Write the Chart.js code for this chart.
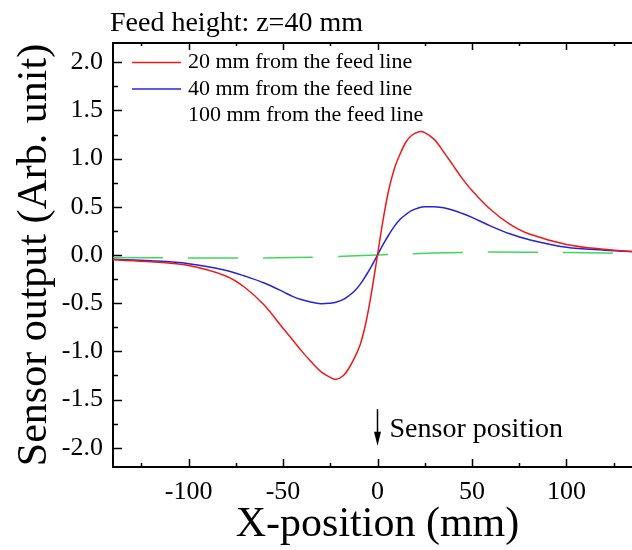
<!DOCTYPE html>
<html>
<head>
<meta charset="utf-8">
<script src="https://cdn.jsdelivr.net/npm/chart.js@4.4.1/dist/chart.umd.min.js"></script>
<style>
  body { margin: 0; background: #fff; overflow: hidden; }
  .wrap { width: 650px; height: 550px; position: relative; }
</style>
</head>
<body>
<div class="wrap"><canvas id="myChart"></canvas></div>
<script>
'use strict';

// values
let xPos = [-140, -120, -100, -80, -70, -60, -50, -45, -40, -35, -30, -25, -22, -18, -15, -12, -9, -6, -3, 0,
            3, 6, 9, 12, 15, 18, 22, 25, 30, 35, 40, 45, 50, 60, 70, 80, 100, 120, 140];
let red20 = [-0.05, -0.07, -0.11, -0.22, -0.34, -0.52, -0.76, -0.88, -1.0, -1.11, -1.21, -1.27, -1.29, -1.25, -1.17, -1.06, -0.92, -0.69, -0.37, 0,
             0.37, 0.68, 0.9, 1.05, 1.17, 1.24, 1.28, 1.27, 1.2, 1.07, 0.93, 0.79, 0.67, 0.47, 0.32, 0.22, 0.11, 0.06, 0.03];
let blue40 = [-0.045, -0.06, -0.09, -0.16, -0.22, -0.29, -0.38, -0.43, -0.465, -0.49, -0.505, -0.5, -0.49, -0.46, -0.42, -0.37, -0.3, -0.21, -0.11, 0,
              0.11, 0.21, 0.3, 0.37, 0.42, 0.46, 0.49, 0.5, 0.5, 0.49, 0.465, 0.43, 0.39, 0.3, 0.22, 0.16, 0.08, 0.05, 0.03];
let greenX = [-140, -100, -60, -30, 0, 30, 60, 100, 140];
let green100 = [-0.025, -0.03, -0.03, -0.02, 0, 0.02, 0.03, 0.025, 0.015];

let seriesNames = ["20 mm from the feed line", "40 mm from the feed line", "100 mm from the feed line"];
let xTicks = [-100, -50, 0, 50, 100];
let yTicks = [-2.0, -1.5, -1.0, -0.5, 0.0, 0.5, 1.0, 1.5, 2.0];

let serif = "'Liberation Serif', 'Times New Roman', serif";

function toPoints(xs, ys) {
  return xs.map((x, i) => ({ x: x, y: ys[i] }));
}

// frame top line, inward ticks, legend, title and arrow
let extras = {
  id: 'extras',
  afterDraw(chart) {
    let ctx = chart.ctx;
    let a = chart.chartArea;
    let sx = chart.scales.x, sy = chart.scales.y;
    ctx.save();
    ctx.strokeStyle = '#000';
    ctx.lineWidth = 2;
    ctx.beginPath();
    ctx.moveTo(a.left - 1, a.top);
    ctx.lineTo(a.right + 1, a.top);
    ctx.stroke();

    ctx.lineWidth = 1.5;
    for (let i = -5; i <= 5; i++) {
      let px = Math.round(sx.getPixelForValue(i * 25)) + 0.5;
      let len = i % 2 === 0 ? 8 : 4;
      ctx.beginPath();
      ctx.moveTo(px, a.bottom);
      ctx.lineTo(px, a.bottom - len);
      ctx.moveTo(px, a.top);
      ctx.lineTo(px, a.top + len - 1);
      ctx.stroke();
    }
    for (let i = -8; i <= 8; i++) {
      let py = Math.round(sy.getPixelForValue(i * 0.25)) + 0.5;
      let len = i % 2 === 0 ? 9 : 5;
      ctx.beginPath();
      ctx.moveTo(a.left, py);
      ctx.lineTo(a.left + len, py);
      ctx.stroke();
    }

    // legend inside the plot
    ctx.font = '22px ' + serif;
    ctx.textBaseline = 'middle';
    ctx.textAlign = 'left';
    chart.data.datasets.forEach((ds, i) => {
      let y = a.top + 19.5 + i * 26.5;
      if (!ds.borderDash) {
        ctx.strokeStyle = ds.borderColor;
        ctx.lineWidth = 1.5;
        ctx.beginPath();
        ctx.moveTo(a.left + 19, y);
        ctx.lineTo(a.left + 68, y);
        ctx.stroke();
      }
      ctx.fillStyle = '#000';
      ctx.fillText(ds.label, a.left + 75, y);
    });

    // title
    ctx.font = '28px ' + serif;
    ctx.textBaseline = 'alphabetic';
    ctx.fillText('Feed height: z=40 mm', 110, 31);

    // sensor position arrow
    let x0 = sx.getPixelForValue(0);
    let yTop = sy.getPixelForValue(-1.6);
    let yTip = sy.getPixelForValue(-1.98);
    ctx.strokeStyle = '#000';
    ctx.lineWidth = 1.5;
    ctx.beginPath();
    ctx.moveTo(x0, yTop);
    ctx.lineTo(x0, yTip - 10);
    ctx.stroke();
    ctx.fillStyle = '#000';
    ctx.beginPath();
    ctx.moveTo(x0, yTip);
    ctx.lineTo(x0 - 3.5, yTip - 14);
    ctx.lineTo(x0 + 3.5, yTip - 14);
    ctx.closePath();
    ctx.fill();
    ctx.fillText('Sensor position', x0 + 12, sy.getPixelForValue(-1.885));
    ctx.restore();
  }
};

new Chart("myChart", {
  type: "line",
  data: {
    datasets: [{
      label: seriesNames[0],
      data: toPoints(xPos, red20),
      borderColor: "#f01818",
      borderWidth: 1.5,
      tension: 0.35
    }, {
      label: seriesNames[1],
      data: toPoints(xPos, blue40),
      borderColor: "#2323d8",
      borderWidth: 1.5,
      tension: 0.35
    }, {
      label: seriesNames[2],
      data: toPoints(greenX, green100),
      borderColor: "#3fd85a",
      borderWidth: 1.5,
      borderDash: [50, 25],
      tension: 0.35
    }]
  },
  options: {
    responsive: true,
    maintainAspectRatio: false,
    animation: false,
    layout: { padding: { top: 43, right: 8, left: 0, bottom: 0 } },
    elements: { point: { radius: 0 } },
    plugins: {
      legend: { display: false },
      title: { display: false },
      tooltip: { enabled: false }
    },
    scales: {
      x: {
        type: 'linear',
        min: -140,
        max: 140,
        grid: { display: false, drawTicks: false },
        border: { display: true, color: '#000', width: 2 },
        afterBuildTicks: s => { s.ticks = xTicks.map(v => ({ value: v })); },
        afterFit: s => { s.height = 83; },
        ticks: { color: '#000', font: { family: serif, size: 26 }, padding: 10, maxRotation: 0 },
        title: { display: true, text: 'X-position (mm)', color: '#000', font: { family: serif, size: 42 }, padding: { top: 0, bottom: 0 } }
      },
      y: {
        type: 'linear',
        min: -2.2,
        max: 2.2,
        grid: { display: false, drawTicks: false },
        border: { display: true, color: '#000', width: 2 },
        afterBuildTicks: s => { s.ticks = yTicks.map(v => ({ value: v })); },
        afterFit: s => { s.width = 113; },
        ticks: { color: '#000', font: { family: serif, size: 26 }, padding: 10, callback: v => Number(v).toFixed(1) },
        title: { display: true, text: 'Sensor output (Arb. unit)', color: '#000', font: { family: serif, size: 42 }, padding: { top: 10, bottom: 0 } }
      }
    }
  },
  plugins: [extras]
});
</script>
</body>
</html>
